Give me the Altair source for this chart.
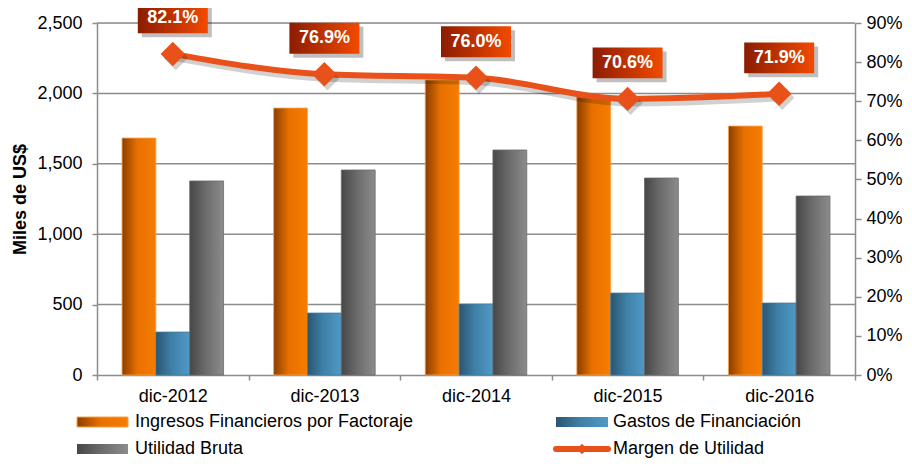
import altair as alt
import pandas as pd

categories = ["dic-2012", "dic-2013", "dic-2014", "dic-2015", "dic-2016"]
ingresos = [1683, 1896, 2095, 1975, 1768]
gastos = [305, 440, 504, 582, 511]
utilidad = [1378, 1456, 1598, 1399, 1271]
margen = [0.821, 0.769, 0.760, 0.706, 0.719]
margen_labels = ["82.1%", "76.9%", "76.0%", "70.6%", "71.9%"]
left_ticks = [0, 500, 1000, 1500, 2000, 2500]
right_ticks = [0.0, 0.1, 0.2, 0.3, 0.4, 0.5, 0.6, 0.7, 0.8, 0.9]

series = ["Ingresos Financieros por Factoraje", "Gastos de Financiación", "Utilidad Bruta"]
line_name = "Margen de Utilidad"

FONT = "Liberation Sans"
W, H = 758, 352
AX = "#8C8C8C"

rows = []
for i, c in enumerate(categories):
    for s, vals in zip(series, [ingresos, gastos, utilidad]):
        rows.append({"cat": c, "serie": s, "valor": vals[i]})
bars_df = pd.DataFrame(rows)
line_df = pd.DataFrame({"cat": categories, "margen": margen, "label": margen_labels})
grid_df = pd.DataFrame({"valor": left_ticks[1:]})


def grad(c0, c1, c2):
    return {"gradient": "linear", "x1": 0, "x2": 1, "y1": 0, "y2": 0,
            "stops": [{"offset": 0, "color": c0}, {"offset": 0.45, "color": c1},
                      {"offset": 1, "color": c2}]}


fills = {
    series[0]: grad("#8A3E00", "#E87000", "#F67D00"),
    series[1]: grad("#2A5570", "#3E7FA6", "#509AC6"),
    series[2]: grad("#474747", "#6A6A6A", "#8C8C8C"),
}
strokes = {series[0]: "#F7A24A", series[1]: "#3D7BA0", series[2]: "#6A6A6A"}

xenc = alt.X("cat:N", sort=categories, title=None,
             scale=alt.Scale(paddingInner=0, paddingOuter=0),
             axis=alt.Axis(tickBand="extent", grid=False, labelAngle=0,
                           domainColor=AX, domainWidth=1.5,
                           tickColor=AX, tickWidth=1.5, tickSize=5,
                           labelPadding=7, labelFontSize=18))
xoff = alt.XOffset("serie:N", sort=series,
                   scale=alt.Scale(domain=series, paddingInner=0, paddingOuter=0.74))
yenc = alt.Y("valor:Q", title="Miles de US$",
             scale=alt.Scale(domain=[0, 2500], nice=False),
             axis=alt.Axis(values=left_ticks, format=",.0f",
                           grid=False,
                           domainColor=AX, domainWidth=1.5,
                           tickColor=AX, tickWidth=1.5, tickSize=5,
                           labelPadding=10, labelFontSize=18,
                           titleFontSize=18, titleFontWeight="bold",
                           titlePadding=7))

grid = alt.Chart(grid_df).mark_rule(color=AX, strokeWidth=1.5).encode(
    y=yenc, x=alt.value(0), x2=alt.value(W))

bar_layers = [grid]
for s in series:
    bar_layers.append(
        alt.Chart(bars_df).transform_filter(alt.datum.serie == s)
        .mark_bar(color=fills[s], stroke=strokes[s], strokeWidth=0.8)
        .encode(x=xenc, xOffset=xoff, y=yenc)
    )
left = alt.layer(*bar_layers)

yr = alt.Y("margen:Q", title=None, scale=alt.Scale(domain=[0, 0.9], nice=False),
           axis=alt.Axis(orient="right", values=right_ticks, format=".0%",
                         grid=False, domainColor=AX, domainWidth=1.5,
                         tickColor=AX, tickWidth=1.5, tickSize=6,
                         labelPadding=5, labelFontSize=18))

base = alt.Chart(line_df)
line_shadow = base.mark_line(color="#000000", opacity=0.18, strokeWidth=7,
                             interpolate="monotone", xOffset=3, yOffset=4).encode(x=xenc, y=yr)
line = base.mark_line(color="#E8511A", strokeWidth=6, interpolate="monotone").encode(x=xenc, y=yr)
pts_shadow = base.mark_point(shape="diamond", size=600, filled=True, color="#000000",
                             opacity=0.18, xOffset=3, yOffset=4).encode(x=xenc, y=yr)
pts = base.mark_point(shape="diamond", size=600, filled=True, color="#E8511A", opacity=1).encode(x=xenc, y=yr)
box_path = "M-1,-0.44L1,-0.44L1,0.44L-1,0.44Z"
box_shadow = base.mark_point(shape=box_path, size=4900, filled=True, color="#000000",
                             opacity=0.25, yOffset=-32, xOffset=4).encode(x=xenc, y=yr)
box = base.mark_point(shape=box_path, size=4900, filled=True, opacity=1,
                      color={"gradient": "linear", "x1": 0, "x2": 1, "y1": 0, "y2": 0,
                             "stops": [{"offset": 0, "color": "#8C1C00"},
                                       {"offset": 1, "color": "#F24A00"}]},
                      yOffset=-36).encode(x=xenc, y=yr)
labels = base.mark_text(font=FONT, fontSize=18, fontWeight="bold", color="white",
                        yOffset=-36, baseline="middle").encode(x=xenc, y=yr, text="label:N")
right = alt.layer(line_shadow, line, pts_shadow, pts, box_shadow, box, labels)

# legend
one = pd.DataFrame({"a": [0]})
lg = alt.Chart(one)
ROW1, ROW2 = 399, 426
C2 = 459
leg = [
    lg.mark_rect(color=fills[series[0]], stroke=strokes[series[0]], strokeWidth=1).encode(
        x=alt.value(-20), x2=alt.value(31), y=alt.value(ROW1 - 5), y2=alt.value(ROW1 + 5)),
    lg.mark_rect(color=fills[series[1]]).encode(
        x=alt.value(C2), x2=alt.value(C2 + 52), y=alt.value(ROW1 - 5), y2=alt.value(ROW1 + 5)),
    lg.mark_rect(color=fills[series[2]]).encode(
        x=alt.value(-20), x2=alt.value(31), y=alt.value(ROW2 - 5), y2=alt.value(ROW2 + 5)),
    lg.mark_rule(color="#E8511A", strokeWidth=6, strokeCap="round").encode(
        x=alt.value(C2), x2=alt.value(C2 + 52), y=alt.value(ROW2)),
    lg.mark_point(shape="diamond", size=110, filled=True, color="#E8511A", opacity=1).encode(
        x=alt.value(C2 + 26), y=alt.value(ROW2)),
    lg.mark_text(font=FONT, fontSize=18, align="left", baseline="middle", color="black",
                 text=series[0]).encode(x=alt.value(38), y=alt.value(ROW1)),
    lg.mark_text(font=FONT, fontSize=18, align="left", baseline="middle", color="black",
                 text=series[1]).encode(x=alt.value(516), y=alt.value(ROW1)),
    lg.mark_text(font=FONT, fontSize=18, align="left", baseline="middle", color="black",
                 text=series[2]).encode(x=alt.value(38), y=alt.value(ROW2)),
    lg.mark_text(font=FONT, fontSize=18, align="left", baseline="middle", color="black",
                 text=line_name).encode(x=alt.value(516), y=alt.value(ROW2)),
]

chart = alt.layer(left, right, *leg).resolve_scale(y="independent").properties(
    width=W, height=H,
    autosize=alt.AutoSizeParams(type="none"),
    padding={"left": 89, "top": 15, "right": 49, "bottom": 83},
).configure_view(strokeWidth=0, stroke="transparent").configure_axis(
    labelFont=FONT, titleFont=FONT, labelColor="black", titleColor="black"
).configure(background="white")

chart.save("out.html", embed_options={"renderer": "svg", "actions": False})
